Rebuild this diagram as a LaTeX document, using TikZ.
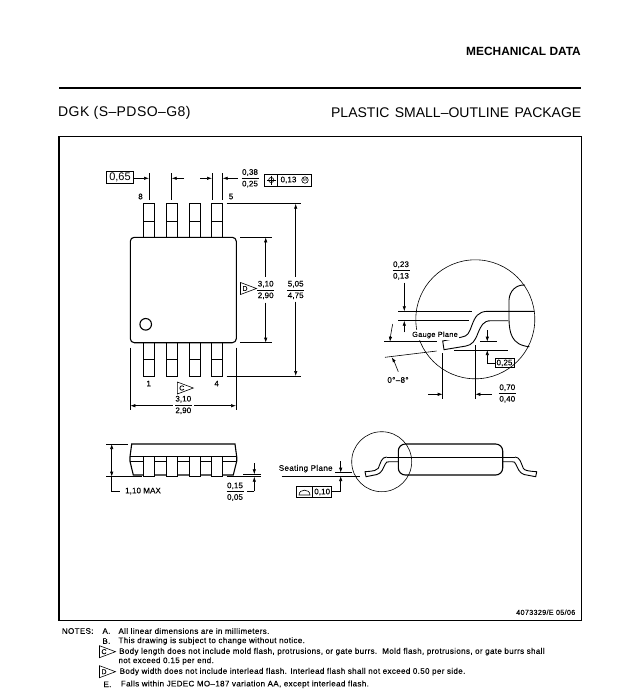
\documentclass[tikz,border=0pt]{standalone}
\usepackage{fontspec}
\setmainfont{Liberation Sans}
\newfontfamily\notefont[LetterSpace=4.5,FakeBold=0.15]{Liberation Sans}
\newfontfamily\dimfont[LetterSpace=1,FakeBold=0.15]{Liberation Sans}
\newfontfamily\titlefont[LetterSpace=3]{Liberation Sans}
\usetikzlibrary{arrows.meta}
\tikzset{
  dimline/.style={line width=0.6pt},
  dimarrow/.style={line width=0.6pt,-{Latex[length=5pt,width=3.4pt]}},
  partline/.style={line width=0.9pt},
  heavyline/.style={line width=1.1pt},
  dimtext/.style={font=\fontsize{8}{9}\dimfont,inner sep=0pt},
  smalltext/.style={font=\fontsize{8}{9}\notefont,inner sep=0pt},
  titletext/.style={font=\fontsize{14}{15}\titlefont,inner sep=0pt},
  notetext/.style={font=\fontsize{8}{8}\notefont,inner sep=0pt,anchor=west},
  boxline/.style={line width=0.8pt}
}
\newcommand{\dimfrac}[5]{%
  \node[dimtext] (#1top) at (#2,#3-5.8) {#4};
  \node[dimtext] (#1bot) at (#2,#3+5.8) {#5};
  \draw[dimline] (#2-8.5,#3) -- (#2+8.5,#3);
}
\newcommand{\flagmark}[4]{%
  \draw[dimline] (#2,#3-6) -- (#2,#3+6) -- (#2+16,#3) -- cycle;
  \node[font=\fontsize{7}{8}\dimfont,inner sep=0pt] (#1) at (#2+4.5,#3) {#4};
}
\begin{document}
\begin{tikzpicture}[x=1pt,y=-1pt]
\useasboundingbox (0,0) rectangle (643,694);
\node[font=\bfseries\fontsize{11.9}{13}\selectfont,inner sep=0pt,anchor=east] (mechdata) at (581,51.5) {MECHANICAL DATA};
\draw[line width=2.6pt] (59,88) -- (581,88);
\node[titletext,anchor=west] (pkgname) at (58,113) {DGK (S–PDSO–G8)};
\node[font=\fontsize{14}{15}\selectfont,inner sep=0pt,anchor=east] (pkgtype) at (581.5,113) {PLASTIC\hspace{1.5pt} SMALL–OUTLINE\hspace{1.5pt} PACKAGE};
\draw[line width=1.2pt] (59,136.7) rectangle (581.5,620.5);

% top view
\draw[heavyline,rounded corners=4pt] (130.3,237.3) rectangle (236.3,342.7);
\draw[heavyline] (145.7,324.3) circle [radius=5.8];
\foreach \lx in {143.3,166.3,189.3,211.7} {
  \draw[partline] (\lx,237.3) -- (\lx,203.7) -- (\lx+11,203.7) -- (\lx+11,237.3);
  \draw[partline] (\lx,221) -- (\lx+11,221);
  \draw[partline] (\lx,342.7) -- (\lx,376) -- (\lx+11,376) -- (\lx+11,342.7);
  \draw[partline] (\lx,359) -- (\lx+11,359);
}
\node[smalltext] (pineight) at (140.5,196.5) {8};
\node[smalltext] (pinfive) at (231,196.5) {5};
\node[smalltext] (pinone) at (148.7,383.5) {1};
\node[smalltext] (pinfour) at (216.7,383.5) {4};

% pitch and lead width
\node[draw,boxline,font=\fontsize{11}{12}\selectfont,inner sep=0pt,minimum width=26.6pt,minimum height=11.6pt] (pitchbox) at (120,177.5) {0,65};
\coordinate (pitchtip) at (149,178.3);
\draw[dimarrow] (pitchbox.east |- pitchtip) -- (pitchtip);
\draw[dimline] (149,173) -- (149,200);
\draw[dimline] (171.7,173) -- (171.7,200);
\draw[dimline] (212,173) -- (212,200);
\draw[dimline] (222.7,173) -- (222.7,200);
\draw[dimarrow] (184,178.3) -- (171.7,178.3);
\draw[dimarrow] (200,178.3) -- (212,178.3);
\draw[dimarrow] (237.7,178.3) -- (222.7,178.3);
\dimfrac{leadw}{250}{178.3}{0,38}{0,25}
\draw[boxline] (264.7,174) rectangle (311.7,186);
\draw[boxline] (277.7,174) -- (277.7,186);
\draw[dimline] (271.2,180) circle [radius=2.6];
\draw[dimline] (266.5,180) -- (276,180);
\draw[dimline] (271.2,175.5) -- (271.2,184.5);
\node[dimtext] (tolval) at (288.5,180) {0,13};
\node[draw,circle,dimline,font=\fontsize{5}{6}\selectfont,inner sep=0.4pt] (tolmod) at (305,180) {M};

% body and overall length
\draw[dimline] (240.3,237.3) -- (271.7,237.3);
\draw[dimline] (240.3,342.7) -- (271.7,342.7);
\draw[dimarrow] (265.7,276.7) -- (265.7,237.3);
\draw[dimarrow] (265.7,302.7) -- (265.7,342.7);
\dimfrac{bodyl}{265.7}{290}{3,10}{2,90}
\flagmark{flagd}{240.5}{288.5}{D}
\draw[dimline] (226.7,203.7) -- (300.7,203.7);
\draw[dimline] (226.7,376) -- (300.7,376);
\draw[dimarrow] (295.7,276.7) -- (295.7,203.7);
\draw[dimarrow] (295.7,301.7) -- (295.7,376);
\dimfrac{totall}{295.7}{290}{5,05}{4,75}

% body width
\draw[dimline] (130.3,347.7) -- (130.3,410);
\draw[dimline] (236,347.7) -- (236,410);
\draw[dimarrow] (172.7,405.7) -- (130.3,405.7);
\draw[dimarrow] (194,405.7) -- (236,405.7);
\dimfrac{bodyw}{183.3}{405}{3,10}{2,90}
\flagmark{flagc}{177.3}{388}{C}

% detail view
\draw[dimline] (475.3,319.3) circle [radius=59.5];
\draw[partline] (525,285) .. controls (516,284.5) and (509.5,291) .. (509,300) -- (509,320) .. controls (509.5,332) and (511,345) .. (529.3,346.7);
\draw[partline] (534.3,311.3) -- (488,311.3) .. controls (478,311.3) and (475,317) .. (472,325) .. controls (469,333) and (468,336) .. (462,337) -- (442.7,341) -- (444,349.7) -- (466,346) .. controls (472,345) and (475,341) .. (478,333) .. controls (481,326) and (483,320.7) .. (491,320.7) -- (508.3,320.7);
\node[font=\fontsize{7.3}{9}\notefont,inner sep=0pt,fill=white,inner xsep=1pt,inner ysep=1.5pt] (gaugetext) at (435,335) {Gauge Plane};
\draw[dimline] (398.3,311.3) -- (472.3,311.3);
\draw[dimline] (398.3,320.7) -- (469.3,320.7);
\draw[dimarrow] (404.3,282.7) -- (404.3,311.3);
\draw[dimarrow] (404.3,332.3) -- (404.3,320.7);
\dimfrac{thick}{401}{270.5}{0,23}{0,13}
\draw[dimline] (384,341.7) -- (436.7,341.7);
\draw[dimline] (385,357.3) -- (436.7,351);
\draw[dimarrow] (392.7,324) .. controls (391.5,330) and (390.5,336) .. (390,341.7);
\draw[dimarrow] (398.3,371.7) .. controls (396,366) and (394,361) .. (391.7,357.3);
\node[smalltext] (angletext) at (398,380) {0°–8°};
\draw[dimline] (442.7,353.3) -- (442.7,399);
\draw[dimline] (475.3,345) -- (475.3,399);
\draw[dimarrow] (428.3,394.3) -- (442.7,394.3);
\draw[dimarrow] (491.7,394.3) -- (475.3,394.3);
\dimfrac{footl}{507.3}{393.5}{0,70}{0,40}
\draw[dimline] (480,341.7) -- (496.7,341.7);
\draw[dimline] (454.3,350) -- (508.3,350);
\draw[dimarrow] (487.3,330) -- (487.3,341.7);
\node[draw,boxline,dimtext,minimum width=19pt,minimum height=8.8pt] (gaugebox) at (504.5,363) {0,25};
\coordinate (gaugecorner) at (487.3,363);
\draw[dimline] (gaugebox.west) -- (gaugecorner);
\draw[dimarrow] (gaugecorner) -- (487.3,350);

% side view
\draw[heavyline] (133.3,475) -- (130,461.3) -- (130,456.7) -- (131.7,444) -- (235,444) -- (236.7,456.7) -- (236.7,461.3) -- (233.3,475) -- cycle;
\draw[partline] (130,456.7) -- (236.7,456.7);
\draw[partline] (130,461.3) -- (236.7,461.3);
\foreach \lx in {143.3,166.3,189.3,211.7} {
  \draw[partline,fill=white] (\lx,457.2) rectangle (\lx+11,476.7);
  \draw[white,line width=1.2pt] (\lx+0.5,456.9) -- (\lx+10.5,456.9);
  \draw[partline] (\lx,456.7) -- (\lx+11,456.7);
}
\draw[dimline] (106,444) -- (127.7,444);
\draw[dimline] (106,476.7) -- (141.7,476.7);
\draw[dimarrow] (111.7,460) -- (111.7,444);
\draw[dimarrow] (111.7,460) -- (111.7,476.7);
\node[dimtext,anchor=west] (heighttext) at (125,491) {1,10 MAX};
\coordinate (heightend) at (120,491);
\draw[dimline] (111.7,476.7) -- (111.7,491) -- (heightend);
\draw[dimline] (243.3,474.3) -- (260.7,474.3);
\draw[dimline] (226.7,476.7) -- (260.7,476.7);
\draw[dimarrow] (254.3,463.3) -- (254.3,474.3);
\draw[dimarrow] (254.3,491) -- (254.3,476.7);
\draw[dimline] (254.3,491) -- (246.7,491);
\dimfrac{standoff}{235}{491.7}{0,15}{0,05}

% seating plane view
\draw[dimline] (381.7,461.7) circle [radius=30];
\draw[heavyline,rounded corners=7pt] (398.3,444) rectangle (502.7,475);
\draw[partline] (515,457) .. controls (520,457) and (521,463) .. (523.3,468.3) .. controls (525,470.5) and (527,471) .. (536.7,471.7) -- (535.7,476.7) -- (524,474.5) .. controls (519,473) and (518,468) .. (516,464.5) .. controls (515,462) and (514,461.7) .. (512.3,461.7) -- (502.7,461.7);
\draw[partline] (386.7,457) .. controls (381.5,457) and (380.5,463) .. (378.3,468.3) .. controls (376.5,470.5) and (374.5,471) .. (365,471.7) -- (366,476.7) -- (377,474.5) .. controls (382,473) and (383,468) .. (385,464.5) .. controls (386,462) and (387,461.7) .. (389.3,461.7) -- (398.3,461.7);
\draw[partline] (386.7,457) -- (515,457);
\node[smalltext] (seattext) at (305.7,468.7) {Seating Plane};
\draw[partline] (281.7,476) -- (360,476);
\draw[dimline] (335,472.7) -- (351.7,472.7);
\draw[dimarrow] (340.7,461) -- (340.7,472.7);
\draw[dimarrow] (340.7,491.7) -- (340.7,476);
\draw[boxline] (296,486.7) rectangle (331.7,497.3);
\draw[boxline] (312.7,486.7) -- (312.7,497.3);
\draw[dimline] (299,495) .. controls (299,488.5) and (310,488.5) .. (310,495) -- cycle;
\node[dimtext] (flatval) at (322.2,492) {0,10};
\draw[dimline] (331.7,491.7) -- (340.7,491.7);

\node[font=\fontsize{7.2}{9}\notefont,inner sep=0pt,anchor=east] (docnum) at (575.5,612.3) {4073329/E 05/06};

% notes
\node[notetext] (notes) at (61.7,631) {NOTES:};
\node[notetext] (notea) at (102.3,631) {A.};
\node[notetext] (noteatext) at (118.3,631) {All linear dimensions are in millimeters.};
\node[notetext] (noteb) at (102.3,641) {B.};
\node[notetext] (notebtext) at (118.3,641) {This drawing is subject to change without notice.};
\flagmark{notec}{99.5}{651.7}{C}
\node[notetext] (notectext) at (119,651.7) {Body length does not include mold flash, protrusions, or gate burrs.\ \ Mold flash, protrusions, or gate burrs shall};
\node[notetext] (notectwo) at (118.3,661) {not exceed 0.15 per end.};
\flagmark{noted}{99.5}{671.7}{D}
\node[notetext] (notedtext) at (119.5,671.7) {Body width does not include interlead flash. Interlead flash shall not exceed 0.50 per side.};
\node[notetext] (notee) at (103.3,684.3) {E.};
\node[notetext] (noteetext) at (120.7,684.3) {Falls within JEDEC MO–187 variation AA, except interlead flash.};
\end{tikzpicture}
\end{document}
